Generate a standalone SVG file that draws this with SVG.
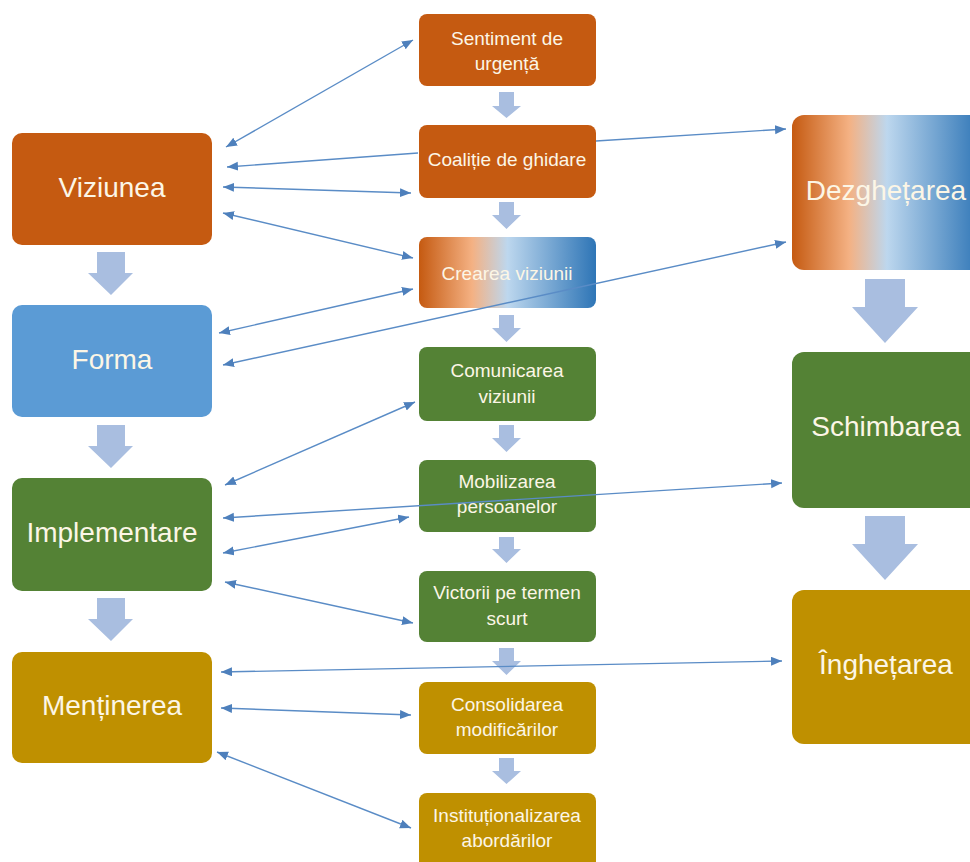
<svg xmlns="http://www.w3.org/2000/svg" width="970" height="862" viewBox="0 0 970 862">
<style>
.box{stroke:none}
.or{fill:#C55A11}.bl{fill:#5B9BD5}.gr{fill:#548235}.go{fill:#BF9000}
.big{font-family:"Liberation Sans",Arial,sans-serif;font-size:28px;fill:#FCF6E6;text-anchor:middle}
.sm{font-family:"Liberation Sans",Arial,sans-serif;font-size:19px;fill:#FCF6E6;text-anchor:middle}
.fat{fill:#A9BEE0}
.con{stroke:#5A8CC6;stroke-width:1.4;fill:none;marker-end:url(#ah)}
.dbl{marker-start:url(#ah)}
</style>
<defs>
<marker id="ah" markerUnits="userSpaceOnUse" markerWidth="12" markerHeight="10" refX="11" refY="4.5" orient="auto-start-reverse">
<path d="M0,0 L11,4.5 L0,9 z" fill="#4E80BC"/>
</marker>
<linearGradient id="grad" x1="0" y1="0" x2="1" y2="0">
<stop offset="0" stop-color="#C55A11"/>
<stop offset="0.3" stop-color="#F4B183"/>
<stop offset="0.5" stop-color="#BDD7EE"/>
<stop offset="1" stop-color="#2E75B6"/>
</linearGradient>
</defs>
<rect width="970" height="862" fill="#FFFFFF"/>

<g id="fat-arrows">
<path class="fat" d="M97,252 H125 V273 H133 L111,295 L88,273 H97 Z"/>
<path class="fat" d="M97,425 H125 V446 H133 L111,468 L88,446 H97 Z"/>
<path class="fat" d="M97,598 H125 V619 H133 L111,641 L88,619 H97 Z"/>
<path class="fat" d="M499,92 H514 V106 H521 L506.5,118 L492,106 H499 Z"/>
<path class="fat" d="M499,202 H514 V215 H521 L506.5,229 L492,215 H499 Z"/>
<path class="fat" d="M499,315 H514 V328 H521 L506.5,342 L492,328 H499 Z"/>
<path class="fat" d="M499,425 H514 V438 H521 L506.5,452 L492,438 H499 Z"/>
<path class="fat" d="M499,537 H514 V549 H521 L506.5,563 L492,549 H499 Z"/>
<path class="fat" d="M499,648 H514 V661 H521 L506.5,675 L492,661 H499 Z"/>
<path class="fat" d="M499,758 H514 V771 H521 L506.5,784 L492,771 H499 Z"/>
<path class="fat" d="M865,279 H905 V307 H918 L885,343 L852,307 H865 Z"/>
<path class="fat" d="M865,516 H905 V544 H918 L885,580 L852,544 H865 Z"/>
</g>

<g id="viziunea"><rect class="box or" x="12" y="133" width="200" height="112" rx="10"/><text class="big" x="112" y="197">Viziunea</text></g>
<g id="forma"><rect class="box bl" x="12" y="305" width="200" height="112" rx="10"/><text class="big" x="112" y="369">Forma</text></g>
<g id="implementare"><rect class="box gr" x="12" y="478" width="200" height="113" rx="10"/><text class="big" x="112" y="542">Implementare</text></g>
<g id="mentinerea"><rect class="box go" x="12" y="652" width="200" height="111" rx="10"/><text class="big" x="112" y="715">Menținerea</text></g>

<g id="sentiment"><rect class="box or" x="419" y="14" width="177" height="72" rx="8"/><text class="sm" x="507" y="45">Sentiment de</text><text class="sm" x="507" y="70">urgență</text></g>
<g id="coalitie"><rect class="box or" x="419" y="125" width="177" height="73" rx="8"/><text class="sm" x="507" y="166">Coaliție de ghidare</text></g>
<g id="crearea"><rect class="box" fill="url(#grad)" x="419" y="237" width="177" height="71" rx="8"/><text class="sm" x="507" y="280">Crearea viziunii</text></g>
<g id="comunicarea"><rect class="box gr" x="419" y="347" width="177" height="74" rx="8"/><text class="sm" x="507" y="377">Comunicarea</text><text class="sm" x="507" y="403">viziunii</text></g>
<g id="mobilizarea"><rect class="box gr" x="419" y="460" width="177" height="72" rx="8"/><text class="sm" x="507" y="488">Mobilizarea</text><text class="sm" x="507" y="513">persoanelor</text></g>
<g id="victorii"><rect class="box gr" x="419" y="571" width="177" height="71" rx="8"/><text class="sm" x="507" y="599">Victorii pe termen</text><text class="sm" x="507" y="625">scurt</text></g>
<g id="consolidarea"><rect class="box go" x="419" y="682" width="177" height="72" rx="8"/><text class="sm" x="507" y="711">Consolidarea</text><text class="sm" x="507" y="736">modificărilor</text></g>
<g id="institutionalizarea"><rect class="box go" x="419" y="793" width="177" height="80" rx="8"/><text class="sm" x="507" y="822">Instituționalizarea</text><text class="sm" x="507" y="847">abordărilor</text></g>

<g id="dezghetarea"><rect class="box" fill="url(#grad)" x="792" y="115" width="190" height="155" rx="12"/><text class="big" x="886" y="200">Dezghețarea</text></g>
<g id="schimbarea"><rect class="box gr" x="792" y="352" width="190" height="156" rx="12"/><text class="big" x="886" y="436">Schimbarea</text></g>
<g id="inghetarea"><rect class="box go" x="792" y="590" width="190" height="154" rx="12"/><text class="big" x="886" y="674">Înghețarea</text></g>

<g id="connectors">
<line class="con dbl" x1="226" y1="147" x2="413" y2="40"/>
<line class="con" x1="418" y1="153" x2="227" y2="167"/>
<line class="con" x1="596" y1="141" x2="786" y2="129"/>
<line class="con dbl" x1="223" y1="187" x2="411" y2="193"/>
<line class="con dbl" x1="223" y1="213" x2="413" y2="258"/>
<line class="con dbl" x1="219" y1="333" x2="413" y2="289"/>
<line class="con dbl" x1="223" y1="365" x2="786" y2="242"/>
<line class="con dbl" x1="225" y1="485" x2="415" y2="402"/>
<line class="con dbl" x1="223" y1="518" x2="782" y2="483"/>
<line class="con dbl" x1="223" y1="553" x2="409" y2="517"/>
<line class="con dbl" x1="225" y1="582" x2="413" y2="623"/>
<line class="con dbl" x1="221" y1="672" x2="782" y2="661"/>
<line class="con dbl" x1="221" y1="708" x2="411" y2="715"/>
<line class="con dbl" x1="217" y1="752" x2="411" y2="828"/>
</g>
</svg>
